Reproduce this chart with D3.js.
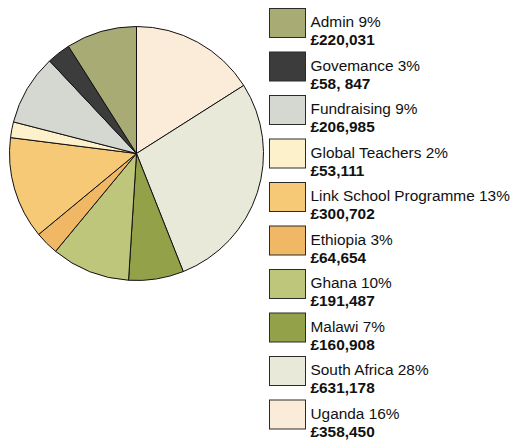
<!doctype html>
<html>
<head>
<meta charset="utf-8">
<script src="https://cdn.jsdelivr.net/npm/d3@7"></script>
<style>
  body { margin: 0; background: #fff; }
  svg { display: block; }
  text { font-family: "Liberation Sans", Arial, sans-serif; font-size: 15.4px; fill: #111; }
  .amount { font-weight: bold; }
</style>
</head>
<body>
<svg width="512" height="440"></svg>
<script>
// legend order (top to bottom)
var categories = ["Admin", "Govemance", "Fundraising", "Global Teachers", "Link School Programme",
                  "Ethiopia", "Ghana", "Malawi", "South Africa", "Uganda"];
var values = [220031, 58847, 206985, 53111, 300702, 64654, 191487, 160908, 631178, 358450];
// the slices follow the rounded percentages, not the raw amounts
var percents = [9, 3, 9, 2, 13, 3, 10, 7, 28, 16];
var amountLabels = ["£220,031", "£58, 847", "£206,985", "£53,111", "£300,702",
                    "£64,654", "£191,487", "£160,908", "£631,178", "£358,450"];
var colors = ["#a8ab73", "#3c3c3c", "#d5d7d1", "#fdf1cb", "#f6c977",
              "#f0b764", "#bdc67b", "#93a248", "#e9e9da", "#fbecd9"];

var svg = d3.select("svg");

var color = d3.scaleOrdinal().domain(categories).range(colors);

// slices run clockwise from 12 o'clock, last legend entry first
var pie = d3.pie().sort(null).value(function(d) { return d.pct; });
var data = categories.map(function(c, i) {
  return {name: c, value: values[i], pct: percents[i]};
}).reverse();

var arc = d3.arc().innerRadius(0).outerRadius(127);

var g = svg.append("g").attr("transform", "translate(136.5,153.5)");
g.selectAll("path")
  .data(pie(data))
  .enter()
  .append("path")
  .attr("d", arc)
  .attr("fill", function(d) { return color(d.data.name); })
  .attr("stroke", "#111")
  .attr("stroke-width", 1);

// legend
var y = d3.scaleBand().domain(categories).range([8, 8 + 43.5 * categories.length]).paddingInner(0);

var item = svg.selectAll("g.item")
  .data(categories)
  .enter()
  .append("g")
  .attr("class", "item")
  .attr("transform", function(d) { return "translate(269.5," + (y(d) + 0.5) + ")"; });

item.append("rect")
  .attr("width", 36)
  .attr("height", 29)
  .attr("fill", function(d) { return color(d); })
  .attr("stroke", "#2a2a2a")
  .attr("stroke-width", 1);

item.append("text")
  .attr("x", 41)
  .attr("y", 18.5)
  .text(function(d, i) { return d + " " + percents[i] + "%"; });

item.append("text")
  .attr("class", "amount")
  .attr("x", 41)
  .attr("y", 36.5)
  .text(function(d, i) { return amountLabels[i]; });
</script>
</body>
</html>
